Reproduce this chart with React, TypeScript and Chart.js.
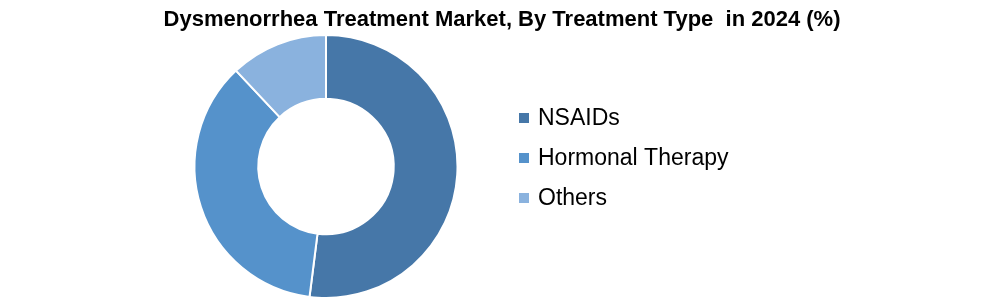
import React, { useEffect, useRef } from "react";
import { Chart, registerables } from "chart.js";

Chart.register(...registerables);

const TITLE = "Dysmenorrhea Treatment Market, By Treatment Type  in 2024 (%)";
const categories = ["NSAIDs", "Hormonal Therapy", "Others"];
const shares = [52, 36, 12];
const colors = ["#4677A8", "#5592CB", "#8AB2DE"];

const FONT = "Arial, 'Liberation Sans', sans-serif";

const decorPlugin = {
  id: "decor",
  afterDraw(chart: any) {
    const ctx = chart.ctx;
    const labels = chart.data.labels as string[];
    const bg = chart.data.datasets[0].backgroundColor as string[];
    ctx.save();
    ctx.textBaseline = "middle";
    ctx.fillStyle = "#000000";
    ctx.textAlign = "center";
    ctx.font = `bold 22px ${FONT}`;
    ctx.fillText(TITLE, 502, 20);
    ctx.textAlign = "left";
    ctx.font = `23px ${FONT}`;
    labels.forEach((lab, i) => {
      const cy = 118 + i * 40;
      ctx.fillStyle = bg[i];
      ctx.fillRect(519, cy - 5, 10, 10);
      ctx.fillStyle = "#000000";
      ctx.fillText(lab, 538, cy + 1);
    });
    ctx.restore();
  },
};

export default function App() {
  const ref = useRef<HTMLCanvasElement | null>(null);
  useEffect(() => {
    if (!ref.current) return;
    const chart = new Chart(ref.current, {
      type: "doughnut",
      data: {
        labels: categories,
        datasets: [
          {
            data: shares,
            backgroundColor: colors,
            borderColor: "#ffffff",
            borderWidth: 2,
          },
        ],
      },
      options: {
        responsive: false,
        animation: false,
        cutout: "51.5%",
        layout: { padding: { left: 130, right: 476, top: 34, bottom: 5 } },
        plugins: {
          legend: { display: false },
          tooltip: { enabled: false },
          title: { display: false },
        },
      },
      plugins: [decorPlugin],
    });
    return () => chart.destroy();
  }, []);
  return (
    <div style={{ position: "absolute", left: 0, top: 0, width: 998, height: 304, background: "#ffffff" }}>
      <canvas ref={ref} width={998} height={304} style={{ width: 998, height: 304 }} />
    </div>
  );
}
